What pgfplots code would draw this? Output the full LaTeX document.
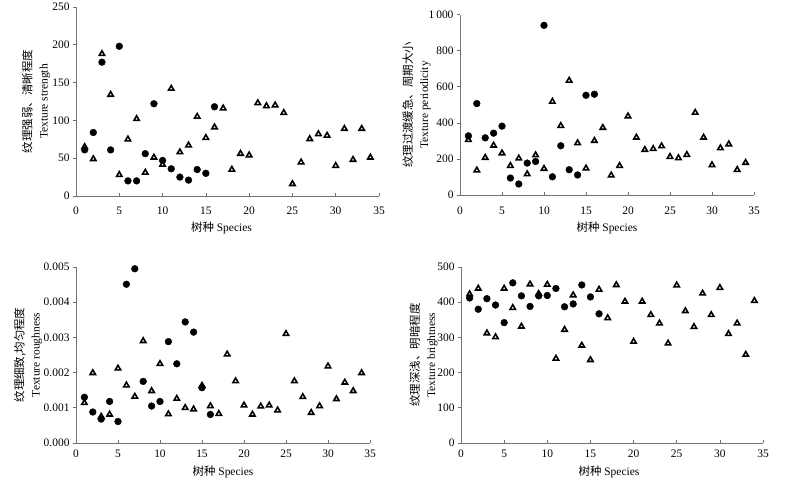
\documentclass[border=0pt]{standalone}
\usepackage{fontspec}
\setmainfont{Liberation Serif}
\newfontfamily\cjk{Noto Sans CJK SC}
\usepackage{pgfplots}
\pgfplotsset{compat=1.18}
\pgfplotsset{
  panel/.style={
    scale only axis, xmin=0, xmax=35, xtick={0,5,...,35},
    axis x line*=bottom, axis y line*=left,
    axis line style={-, draw=black!55, line width=0.7bp},
    tick style={draw=black!55, line width=0.7bp},
    xtick align=inside, ytick align=outside,
    major tick length=3bp, minor tick num=0,
    tick label style={font=\fontsize{11.5}{13}\selectfont},
    /pgf/number format/assume math mode=true,
    clip=false,
    xlabel={{\cjk 树种} Species},
    label style={font=\fontsize{11.5}{16}\selectfont},
    ylabel style={align=center, anchor=center, rotate=0},
    xlabel style={anchor=center},
  },
  circ/.style={only marks, mark=*, mark size=3.4bp, mark options={fill=black, draw=black}},
  tri/.style={only marks, mark=triangle, mark size=3.1bp, mark options={draw=black, line width=1.6bp, fill=white}},
}
\begin{document}
\begin{tikzpicture}
\useasboundingbox (0,0) rectangle (801bp,498bp);
% Panel 1
\begin{axis}[panel, at={(76bp,302bp)}, anchor=south west, width=303bp, height=189bp,
  ymin=0, ymax=250, ytick={0,50,...,250},
  xticklabel style={yshift=-7.5bp},
  ylabel={{\cjk 纹理强弱、清晰程度}\\Texture strength},
  ylabel style={at={(axis description cs:-0.132,0.5)}},
  xlabel style={at={(axis description cs:0.48,-0.169)}}]
\addplot[tri] coordinates {(1,65)(2,49)(3,188)(4,134)(5,28)(6,75)(7,102)(8,31)(9,51)(10,41.5)(11,142)(12,58)(13,67)(14,105)(15,77)(16,91)(17,116)(18,35)(19,56)(20,54)(21,123)(22,119)(23,120)(24,110)(25,16)(26,44.6)(27,75.5)(28,82)(29,80)(30,40)(31,89)(32,48)(33,89)(34,51)};
\addplot[circ] coordinates {(1,61)(2,84)(3,177)(4,61)(5,198)(6,20)(7,20)(8,56)(9,122)(10,47)(11,36)(12,25)(13,21)(14,35)(15,30)(16,118)};
\end{axis}
% Panel 2
\begin{axis}[panel, at={(460bp,303bp)}, anchor=south west, width=294bp, height=180.3bp,
  ymin=0, ymax=1000, ytick={0,200,...,1000}, yticklabels={0,200,400,600,800,1\,000},
  xticklabel style={yshift=-8bp},
  ylabel={{\cjk 纹理过渡缓急、周期大小}\\Texture periodicity},
  ylabel style={at={(axis description cs:-0.148,0.5)}},
  xlabel style={at={(axis description cs:0.5,-0.183)}}]
\addplot[tri] coordinates {(1,306)(2,137)(3,207)(4,275)(5,232)(6,162)(7,203)(8,116)(9,221)(10,146)(11,518)(12,384)(13,635)(14,288)(15,148)(16,301)(17,373)(18,109)(19,162)(20,437)(21,319)(22,251)(23,256)(24,271)(25,212)(26,205)(27,223)(28,457)(29,319)(30,166)(31,260)(32,282)(33,140)(34,179)};
\addplot[circ] coordinates {(1,328)(2,507)(3,317)(4,343)(5,382)(6,94)(7,61)(8,177)(9,186)(10,941)(11,101)(12,273)(13,140)(14,111)(15,553)(16,559)};
\end{axis}
% Panel 3
\begin{axis}[panel, at={(76bp,55bp)}, anchor=south west, width=294bp, height=176bp,
  ymin=0, ymax=0.005, ytick={0,0.001,...,0.005}, scaled y ticks=false,
  yticklabels={0.000,0.001,0.002,0.003,0.004,0.005},
  xticklabel style={yshift=-3.7bp},
  ylabel={{\cjk 纹理细致,均匀程度}\\Texture roughness},
  ylabel style={at={(axis description cs:-0.163,0.5)}},
  xlabel style={at={(axis description cs:0.5,-0.165)}}]
\addplot[tri] coordinates {(1,0.00114)(2,0.00199)(3,0.00075)(4,0.00081)(5,0.00212)(6,0.00164)(7,0.00132)(8,0.00290)(9,0.00148)(10,0.00225)(11,0.00082)(12,0.00126)(13,0.00100)(14,0.00096)(15,0.00163)(16,0.00105)(17,0.00083)(18,0.00252)(19,0.00176)(20,0.00107)(21,0.00081)(22,0.00104)(23,0.00107)(24,0.00093)(25,0.00310)(26,0.00176)(27,0.00131)(28,0.00086)(29,0.00105)(30,0.00218)(31,0.00125)(32,0.00172)(33,0.00148)(34,0.00199)};
\addplot[circ] coordinates {(1,0.00130)(2,0.00088)(3,0.00068)(4,0.00118)(5,0.00061)(6,0.00451)(7,0.00495)(8,0.00175)(9,0.00105)(10,0.00118)(11,0.00288)(12,0.00225)(13,0.00344)(14,0.00315)(15,0.00157)(16,0.00081)};
\end{axis}
% Panel 4
\begin{axis}[panel, at={(461bp,55bp)}, anchor=south west, width=302bp, height=176bp,
  ymin=0, ymax=500, ytick={0,100,...,500},
  xticklabel style={yshift=-3.7bp},
  ylabel={{\cjk 纹理深浅、明暗程度}\\Texture brightness},
  ylabel style={at={(axis description cs:-0.124,0.5)}},
  xlabel style={at={(axis description cs:0.49,-0.165)}}]
\addplot[tri] coordinates {(1,423)(2,439)(3,312)(4,301)(5,439)(6,384)(7,331)(8,451)(9,424)(10,450)(11,240)(12,322)(13,420)(14,277)(15,236)(16,436)(17,355)(18,449)(19,402)(20,288)(21,402)(22,364)(23,340)(24,283)(25,448)(26,375)(27,330)(28,425)(29,364)(30,441)(31,310)(32,340)(33,251)(34,404)};
\addplot[circ] coordinates {(1,412)(2,380)(3,410)(4,392)(5,342)(6,455)(7,418)(8,388)(9,418)(10,419)(11,439)(12,387)(13,395)(14,449)(15,415)(16,367)};
\end{axis}
\end{tikzpicture}
\end{document}
